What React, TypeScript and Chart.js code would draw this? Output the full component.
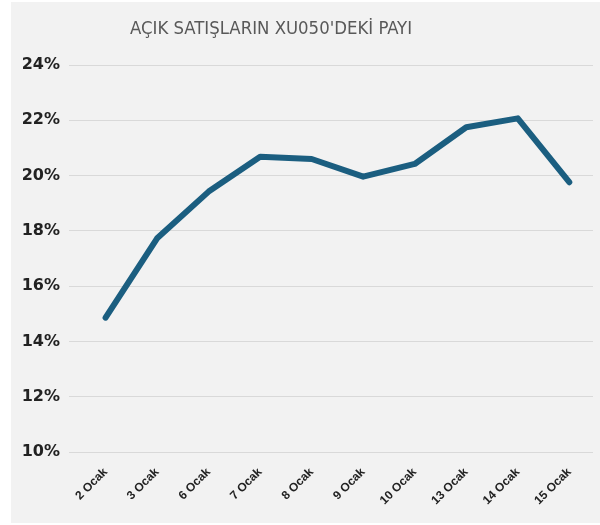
import React, { useEffect, useRef } from "react";
import { Chart, registerables } from "chart.js";

Chart.register(...registerables);

const categories = ["2 Ocak", "3 Ocak", "6 Ocak", "7 Ocak", "8 Ocak", "9 Ocak", "10 Ocak", "13 Ocak", "14 Ocak", "15 Ocak"];
const shareValues = [14.86, 17.73, 19.42, 20.68, 20.6, 19.96, 20.42, 21.75, 22.07, 19.76];
const yTicks = [10, 12, 14, 16, 18, 20, 22, 24];
const titleText = "AÇIK SATIŞLARIN XU050'DEKİ PAYI";

export default function App() {
  const canvasRef = useRef<HTMLCanvasElement | null>(null);

  useEffect(() => {
    if (!canvasRef.current) return;
    const titlePlugin = {
      id: "customTitle",
      afterDraw(chart: any) {
        const ctx = chart.ctx;
        ctx.save();
        ctx.font = "18.4px 'Liberation Sans Narrow', 'DejaVu Sans Condensed', sans-serif";
        ctx.fillStyle = "#595959";
        ctx.textAlign = "center";
        ctx.textBaseline = "middle";
        ctx.fillText(titleText, 260, 27);
        ctx.restore();
      },
    };
    const chart = new Chart(canvasRef.current, {
      type: "line",
      data: {
        datasets: [
          {
            data: shareValues.map((v, i) => ({ x: i, y: v })),
            borderColor: "#1b5e80",
            borderWidth: 6,
            borderCapStyle: "round",
            borderJoinStyle: "round",
            pointRadius: 0,
            tension: 0,
            fill: false,
          },
        ],
      },
      options: {
        animation: false,
        responsive: false,
        maintainAspectRatio: false,
        layout: { padding: { top: 63, right: 7, left: 0, bottom: 0 } },
        plugins: { legend: { display: false }, title: { display: false }, tooltip: { enabled: false } },
        scales: {
          x: {
            type: "linear",
            min: -0.71,
            max: 9.46,
            afterBuildTicks: (scale: any) => {
              scale.ticks = categories.map((_, i) => ({ value: i }));
            },
            afterFit: (scale: any) => {
              scale.height = 71;
            },
            grid: { display: false, drawTicks: false },
            border: { display: false },
            ticks: {
              autoSkip: false,
              minRotation: 45,
              maxRotation: 45,
              padding: 13,
              color: "#222222",
              font: { family: "'Liberation Sans', Arial, sans-serif", size: 12, weight: "bold" },
              callback: (v: any) => categories[v as number] ?? "",
            },
          },
          y: {
            min: 10,
            max: 24,
            afterBuildTicks: (scale: any) => {
              scale.ticks = yTicks.map((v) => ({ value: v }));
            },
            afterFit: (scale: any) => {
              scale.width = 58;
            },
            grid: { color: "#d9d9d9", lineWidth: 1, drawTicks: false },
            border: { display: false },
            ticks: {
              padding: 9,
              color: "#222222",
              font: { family: "'DejaVu Sans', sans-serif", size: 16, weight: "bold" },
              callback: (v: any) => `${v}%`,
            },
          },
        },
      },
      plugins: [titlePlugin],
    } as any);
    return () => chart.destroy();
  }, []);

  return (
    <div style={{ position: "absolute", left: 0, top: 0, width: 600, height: 525, background: "#ffffff" }}>
      <div style={{ position: "absolute", left: 11, top: 2, width: 589, height: 521, background: "#f2f2f2" }}>
        <canvas ref={canvasRef} width={589} height={521} style={{ display: "block", width: 589, height: 521 }} />
      </div>
    </div>
  );
}
